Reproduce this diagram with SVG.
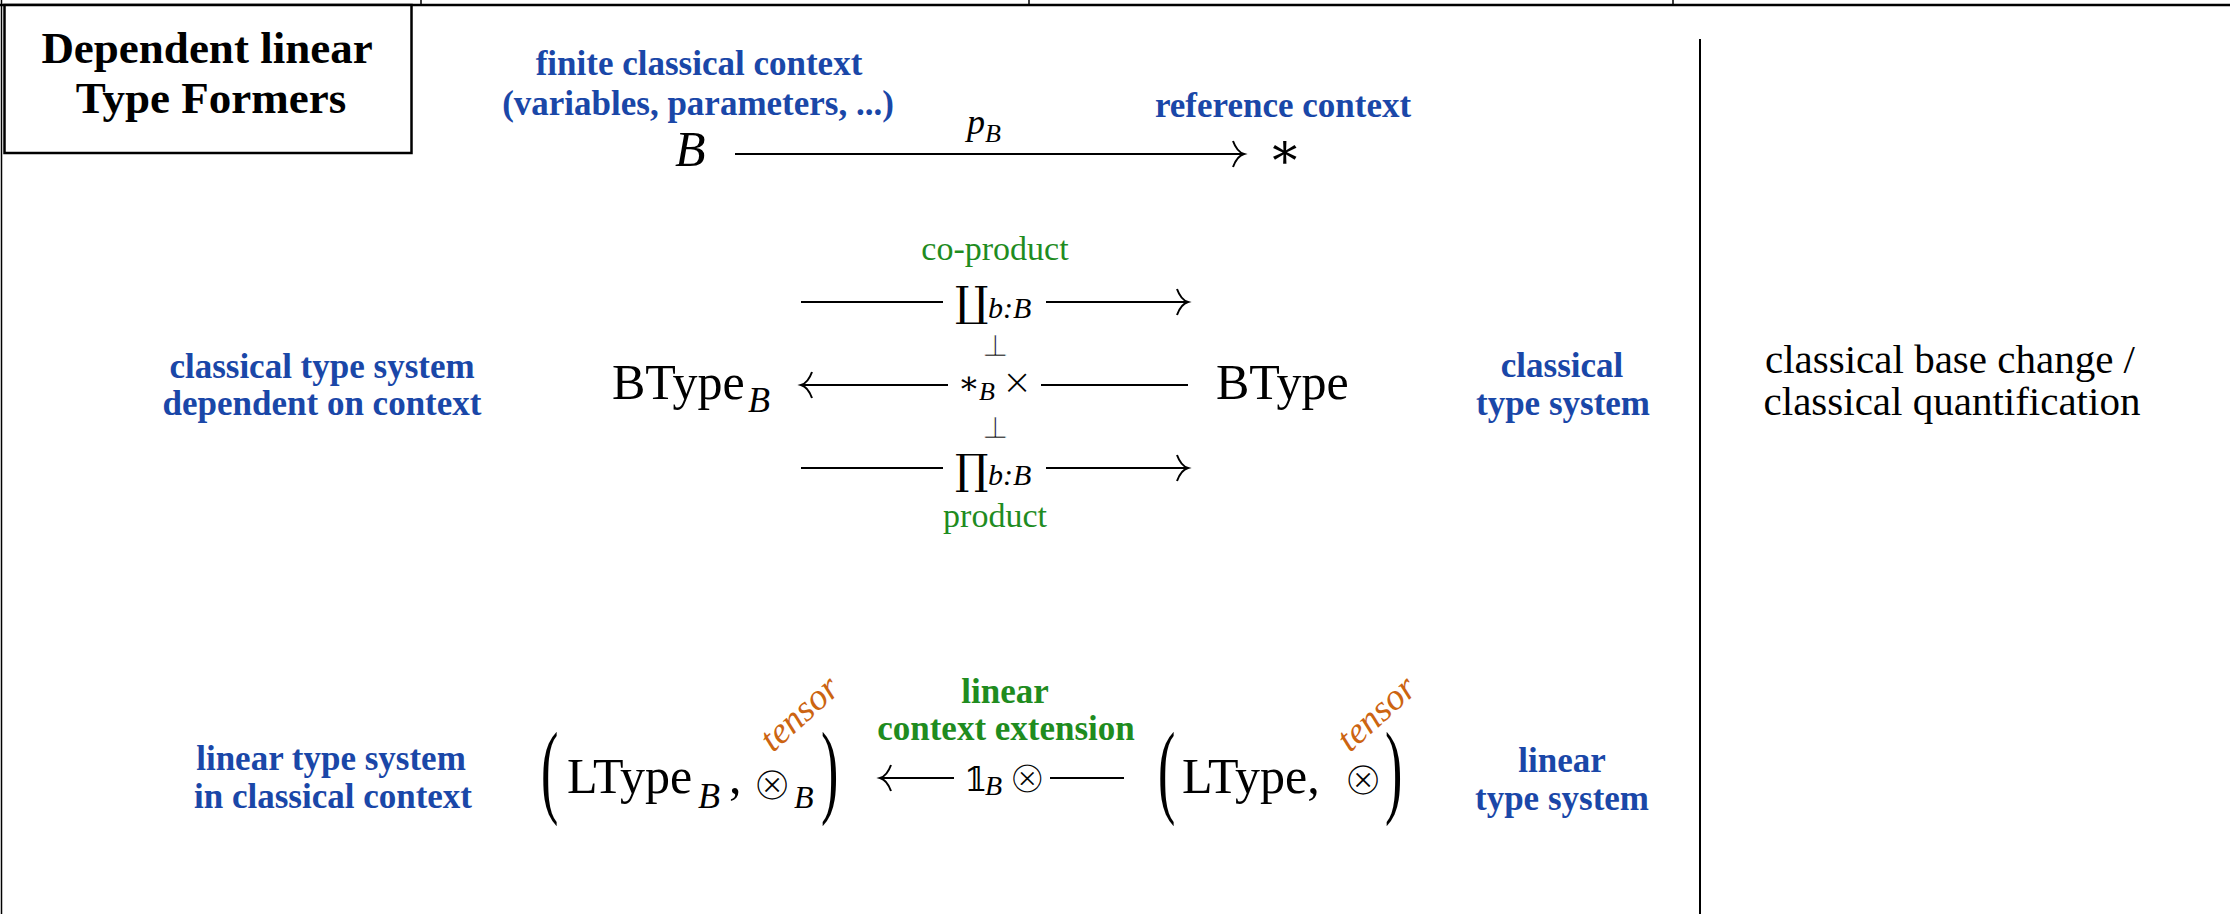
<svg xmlns="http://www.w3.org/2000/svg" width="2230" height="914" viewBox="0 0 2230 914">
<style>
text{font-family:"Liberation Serif","DejaVu Serif",serif;fill:#000}
.blue{fill:#1a47a8;font-weight:bold;font-size:35px;text-anchor:middle}
.green{fill:#1f8c1f;font-size:34px;text-anchor:middle}
.greenb{fill:#1f8c1f;font-weight:bold;font-size:35px;text-anchor:middle}
.title{font-weight:bold;font-size:45px;text-anchor:middle}
.plain{font-size:41px;text-anchor:middle}
.big{font-size:50px}
.it{font-style:italic}
.sym{font-family:"DejaVu Serif","DejaVu Sans",serif}
.thin{font-family:"DejaVu Sans","DejaVu Serif",sans-serif;font-weight:200}
.otimes{font-family:"DejaVu Sans","DejaVu Serif",sans-serif;stroke:#fff;stroke-width:2}
.perp{font-family:"DejaVu Sans","DejaVu Serif",sans-serif;stroke:#fff;stroke-width:0.7;text-anchor:middle}
.tensor{fill:#cc6411;font-style:italic;font-size:37px}
.ln{stroke:#000;stroke-width:2;fill:none}
.paren{font-size:52px}
</style>
<defs>
<marker id="ah" markerUnits="userSpaceOnUse" markerWidth="30" markerHeight="30" viewBox="-15 -15 30 30" refX="0" refY="0" orient="auto-start-reverse">
<path d="M -11,-13 Q -7,-2 0,0 Q -7,2 -11,13" fill="none" stroke="#000" stroke-width="2"/>
</marker>
</defs>

<g id="frame">
<line x1="0" y1="5" x2="2230" y2="5" stroke="#000" stroke-width="2.5"/>
<line x1="1.5" y1="0" x2="1.5" y2="914" stroke="#000" stroke-width="1.5"/>
<line x1="421" y1="0" x2="421" y2="5" stroke="#000" stroke-width="1.5"/>
<line x1="1029" y1="0" x2="1029" y2="5" stroke="#000" stroke-width="1.5"/>
<line x1="1673" y1="0" x2="1673" y2="5" stroke="#000" stroke-width="1.5"/>
<line x1="1700" y1="39" x2="1700" y2="914" stroke="#000" stroke-width="2"/>
</g>

<g id="title-box">
<rect x="4.5" y="5" width="407" height="148" fill="#fff" stroke="#000" stroke-width="2.5"/>
<text class="title" x="207" y="63">Dependent linear</text>
<text class="title" x="211" y="113">Type Formers</text>
</g>

<g id="node-B">
<text class="blue" x="699" y="75">finite classical context</text>
<text class="blue" x="698" y="115">(variables, parameters, ...)</text>
<text class="it" x="675" y="166" font-size="50">B</text>
</g>

<g id="node-star">
<text class="blue" x="1283" y="117">reference context</text>
<text class="sym" x="1268" y="168" font-size="50">∗</text>
</g>

<g id="node-BTypeB">
<text class="blue" x="322" y="378">classical type system</text>
<text class="blue" x="322" y="415">dependent on context</text>
<text class="big" x="612" y="399">BType</text>
<text class="it" x="748" y="412" font-size="36">B</text>
</g>

<g id="node-BType">
<text class="big" x="1216" y="399">BType</text>
<text class="blue" x="1562" y="377">classical</text>
<text class="blue" x="1563" y="415">type system</text>
</g>

<g id="note-right">
<text class="plain" x="1950" y="373">classical base change /</text>
<text class="plain" x="1952" y="415">classical quantification</text>
</g>

<g id="node-LTypeB">
<text class="blue" x="331" y="770">linear type system</text>
<text class="blue" x="333" y="808">in classical context</text>
<text class="paren" transform="translate(541,804) scale(1,2)">(</text>
<text class="big" x="567" y="793">LType</text>
<text class="it" x="698" y="808" font-size="36">B</text>
<text class="big" x="729" y="793">,</text>
<text class="otimes" x="752" y="800" font-size="48">⊗</text>
<text class="it" x="794" y="808" font-size="32">B</text>
<text class="paren" transform="translate(821,804) scale(1,2)">)</text>
<text class="tensor" transform="translate(773,753) rotate(-42)">tensor</text>
</g>

<g id="node-LType">
<text class="paren" transform="translate(1158,804) scale(1,2)">(</text>
<text class="big" x="1182" y="793">LType,</text>
<text class="otimes" x="1343" y="795" font-size="48">⊗</text>
<text class="paren" transform="translate(1385,804) scale(1,2)">)</text>
<text class="tensor" transform="translate(1350,753) rotate(-42)">tensor</text>
<text class="blue" x="1562" y="772">linear</text>
<text class="blue" x="1562" y="810">type system</text>
</g>

<g id="connectors">
<line class="ln" x1="735" y1="154" x2="1244" y2="154" marker-end="url(#ah)"/>
<text class="it" x="967" y="134" font-size="36">p</text>
<text class="it" x="985" y="142" font-size="26">B</text>

<text class="green" x="995" y="260">co-product</text>
<line class="ln" x1="801" y1="302" x2="943" y2="302"/>
<line class="ln" x1="1046" y1="302" x2="1188" y2="302" marker-end="url(#ah)"/>
<text class="sym" x="955" y="316" font-size="42">∐</text>
<text class="it" x="988" y="318" font-size="30">b:B</text>
<text class="perp" x="995" y="356" font-size="30">⊥</text>

<line class="ln" x1="801" y1="385" x2="948" y2="385" marker-start="url(#ah)"/>
<line class="ln" x1="1041" y1="385" x2="1188" y2="385"/>
<text class="sym" x="958" y="394" font-size="32">∗</text>
<text class="it" x="979" y="400" font-size="26">B</text>
<text class="thin" x="1002" y="394" font-size="36">×</text>
<text class="perp" x="995" y="438" font-size="30">⊥</text>

<line class="ln" x1="801" y1="468" x2="943" y2="468"/>
<line class="ln" x1="1046" y1="468" x2="1188" y2="468" marker-end="url(#ah)"/>
<text class="sym" x="955" y="484" font-size="42">∏</text>
<text class="it" x="988" y="485" font-size="30">b:B</text>
<text class="green" x="995" y="527">product</text>

<text class="greenb" x="1005" y="703">linear</text>
<text class="greenb" x="1006" y="740">context extension</text>
<line class="ln" x1="880" y1="778" x2="954" y2="778" marker-start="url(#ah)"/>
<line class="ln" x1="1050" y1="778" x2="1124" y2="778"/>
<text class="sym" x="964" y="791" font-size="34">𝟙</text>
<text class="it" x="985" y="795" font-size="28">B</text>
<text class="otimes" x="1008" y="793" font-size="46">⊗</text>
</g>
</svg>
